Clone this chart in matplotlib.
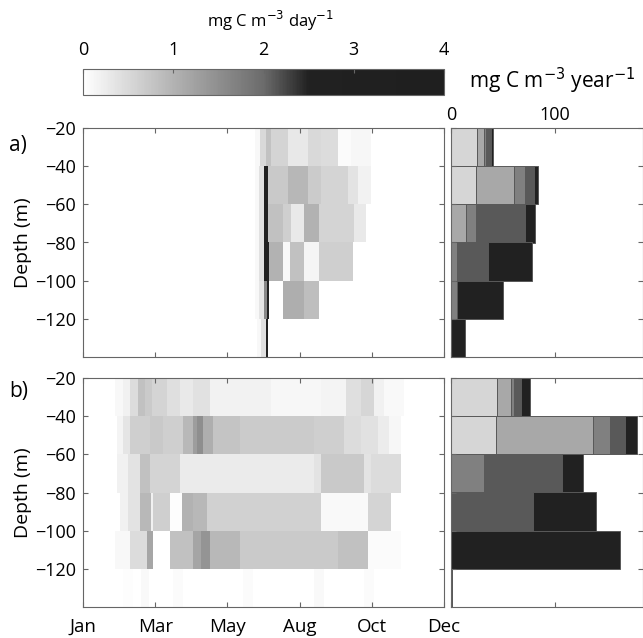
import numpy as np
import matplotlib.pyplot as plt
from matplotlib.colors import LinearSegmentedColormap, Normalize
from matplotlib.cm import ScalarMappable

plt.rcParams['font.family'] = ['Open Sans', 'DejaVu Sans']

depth_edges = [-20, -40, -60, -80, -100, -120, -140]
month_ticks = [0, 72, 144, 216, 288, 360]
month_labels = ['Jan', 'Mar', 'May', 'Aug', 'Oct', 'Dec']

# daily rate (mg C m-3 day-1), one list per depth bin: (start day, end day, value)
rate_a = [
    [(172, 177, 0.1), (177, 182, 0.5), (182, 187, 0.8), (187, 204, 0.57), (204, 224, 0.3),
     (224, 237, 0.5), (237, 254, 0.46), (254, 267, 0.05), (267, 287, 0.12)],
    [(172, 176, 0.1), (176, 180, 0.4), (180, 184, 2.8), (184, 204, 0.71), (204, 224, 0.95),
     (224, 237, 0.68), (237, 264, 0.57), (264, 274, 0.36), (274, 287, 0.18)],
    [(172, 176, 0.1), (176, 180, 0.4), (180, 184, 2.8), (184, 199, 0.82), (199, 207, 0.64),
     (207, 220, 0.29), (220, 235, 1.0), (235, 270, 0.57), (270, 282, 0.29)],
    [(172, 176, 0.1), (176, 180, 0.4), (180, 185, 2.8), (185, 199, 1.0), (199, 206, 0.1),
     (206, 220, 0.82), (220, 235, 0.14), (235, 269, 0.64)],
    [(172, 176, 0.1), (176, 180, 0.35), (180, 183, 1.6), (183, 185, 2.5), (199, 220, 1.07),
     (220, 235, 0.85)],
    [(174, 178, 0.1), (178, 182, 0.4), (182, 184, 2.8)],
]
rate_b = [
    [(32, 40, 0.1), (40, 47, 0.2), (47, 55, 0.46), (55, 62, 0.82), (62, 69, 0.7),
     (69, 84, 0.57), (84, 97, 0.43), (97, 110, 0.29), (110, 127, 0.4), (127, 187, 0.18),
     (187, 237, 0.12), (237, 262, 0.15), (262, 277, 0.43), (277, 290, 0.54),
     (290, 300, 0.2), (300, 320, 0.08)],
    [(34, 40, 0.15), (40, 47, 0.35), (47, 67, 0.64), (67, 80, 0.71), (80, 100, 0.64),
     (100, 110, 0.93), (110, 114, 1.3), (114, 120, 1.5), (120, 130, 1.07), (130, 157, 0.78),
     (157, 230, 0.68), (230, 260, 0.64), (260, 277, 0.46), (277, 294, 0.4),
     (294, 305, 0.25), (305, 317, 0.12)],
    [(34, 45, 0.2), (45, 57, 0.36), (57, 67, 0.82), (67, 97, 0.57), (97, 230, 0.27),
     (230, 237, 0.36), (237, 280, 0.71), (280, 287, 0.36), (287, 317, 0.46)],
    [(37, 45, 0.2), (45, 57, 0.36), (57, 68, 0.93), (68, 70, 0.2), (70, 87, 0.64),
     (87, 99, 0.04), (99, 110, 1.0), (110, 124, 0.93), (124, 237, 0.6), (237, 284, 0.08),
     (284, 307, 0.57)],
    [(32, 47, 0.1), (47, 64, 0.46), (64, 70, 1.18), (70, 87, 0.0), (87, 110, 0.82),
     (110, 118, 1.2), (118, 127, 1.43), (127, 157, 0.93), (157, 254, 0.7), (254, 284, 0.82),
     (284, 317, 0.05)],
    [(40, 50, 0.04), (58, 66, 0.08), (90, 100, 0.05), (160, 170, 0.05), (230, 240, 0.08),
     (280, 290, 0.06)],
]

# annual production (mg C m-3 year-1) per depth bin, split into five rate classes
annual_a = [
    [24.7, 7.0, 2.0, 4.4, 2.6],
    [23.7, 36.9, 10.6, 8.6, 4.5],
    [0, 14.1, 9.6, 47.5, 9.6],
    [0, 0, 5.4, 30.5, 42.6],
    [0, 0, 6.1, 0, 44.2],
    [0, 0, 0, 0, 13.5],
]
annual_b = [
    [44.6, 13.1, 2.9, 7.3, 8.1],
    [43.3, 93.6, 16.0, 14.7, 11.6],
    [0, 0, 32.1, 75.3, 19.8],
    [0, 0, 0, 79.2, 60.2],
    [0, 0, 0, 0, 163.1],
    [0, 0, 0, 0, 1.0],
]
class_grays = ['0.84', '0.66', '0.5', '0.35', '0.13']

cmap = LinearSegmentedColormap.from_list(
    'prod', [(0, '1.0'), (0.25, '0.70'), (0.5, '0.42'), (0.625, '0.13'), (1, '0.12')])
norm = Normalize(0, 4)

W, H = 643, 638
fig = plt.figure(figsize=(W / 100, H / 100), dpi=100)


def box(x0, y0, x1, y1):
    return [x0 / W, 1 - y1 / H, (x1 - x0) / W, (y1 - y0) / H]


def style(ax):
    for s in ax.spines.values():
        s.set_color('0.4')
        s.set_linewidth(0.8)
    ax.tick_params(direction='in', length=3.5, width=0.8, color='0.4',
                   top=True, right=True, labelsize=13, pad=5)


def heatmap(ax, rows):
    Z = np.full((len(rows), 360), np.nan)
    for i, row in enumerate(rows):
        for d0, d1, v in row:
            Z[i, d0:d1] = v
    ax.pcolormesh(np.arange(361), depth_edges, Z, cmap=cmap, norm=norm, shading='flat')
    ax.set_xlim(0, 360)
    ax.set_ylim(-140, -20)
    ax.set_xticks(month_ticks)
    ax.set_yticks([-20, -40, -60, -80, -100, -120])
    ax.set_ylabel('Depth (m)', fontsize=14, labelpad=2)
    style(ax)


def stacks(ax, rows):
    centers = [(depth_edges[i] + depth_edges[i + 1]) / 2 for i in range(len(rows))]
    for i, row in enumerate(rows):
        left = 0
        for k, v in enumerate(row):
            if v > 0:
                ax.barh(centers[i], v, left=left, height=20, color=class_grays[k],
                        edgecolor='0.35', linewidth=0.7)
            left += v
    ax.set_xlim(0, 185)
    ax.set_ylim(-140, -20)
    ax.set_xticks([0, 100])
    ax.set_yticks([-20, -40, -60, -80, -100, -120])
    ax.set_yticklabels([])
    style(ax)


# colorbar
cax = fig.add_axes(box(83, 69, 444, 95))
cb = fig.colorbar(ScalarMappable(norm=norm, cmap=cmap), cax=cax, orientation='horizontal')
cb.set_ticks([0, 1, 2, 3, 4])
cax.xaxis.set_ticks_position('top')
cax.tick_params(direction='in', length=3, color='0.4', labelsize=13, pad=7)
cb.outline.set_edgecolor('0.4')

ax_a = fig.add_axes(box(83, 128, 444, 357))
heatmap(ax_a, rate_a)
ax_a.set_xticklabels([])

ax_b = fig.add_axes(box(83, 378, 444, 607))
heatmap(ax_b, rate_b)
ax_b.set_xticklabels(month_labels, fontsize=13.5)
ax_b.tick_params(axis='x', pad=8)

ax_ar = fig.add_axes(box(451, 128, 643, 357))
stacks(ax_ar, annual_a)
ax_ar.tick_params(labeltop=True, labelbottom=False, labelsize=13, pad=3)

ax_br = fig.add_axes(box(451, 378, 643, 607))
stacks(ax_br, annual_b)
ax_br.set_xticklabels([])

fig.text(207 / W, 1 - 21 / H, 'mg C m$^{-3}$ day$^{-1}$', fontsize=12, va='center')
fig.text(469 / W, 1 - 81 / H, 'mg C m$^{-3}$ year$^{-1}$', fontsize=15, va='center')
fig.text(9 / W, 1 - 145 / H, 'a)', fontsize=15, va='center')
fig.text(9 / W, 1 - 392 / H, 'b)', fontsize=15, va='center')

fig.savefig('out.png', dpi=100)
